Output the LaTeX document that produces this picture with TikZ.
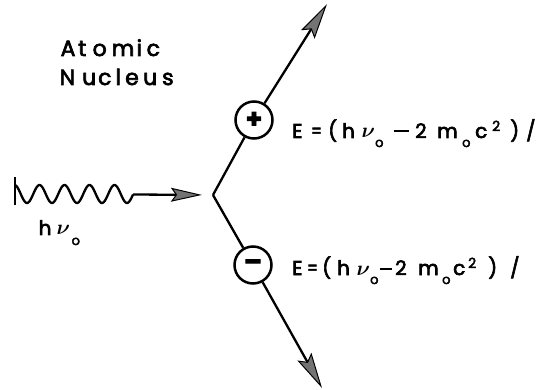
\documentclass[tikz,border=0pt]{standalone}
\usepackage{fontspec}
\setmainfont{Poppins}[FakeBold=3]
\usetikzlibrary{arrows.meta}
\newcommand\at[2]{\makebox[0pt][l]{\hspace*{#1pt}#2}}
\newcommand\lowo[1]{\raisebox{-#1pt}{\fontsize{13}{13}\selectfont o}}
\newcommand\hitwo{\raisebox{7pt}{\fontsize{14}{14}\selectfont 2}}
\newcommand\mbar[1]{\rule[5.5pt]{#1pt}{2pt}}
\newcommand\nusym{{\boldmath$\nu$}}
\newcommand\eqs{\scalebox{0.75}[1]{=}}
\begin{document}
\begin{tikzpicture}[x=1pt,y=-1pt,line width=2.3pt,
  lbl/.style={anchor=base west,inner sep=0pt,font=\fontsize{20}{22}\selectfont},
  ttl/.style={anchor=base west,inner sep=0pt,font=\fontsize{22}{24}\selectfont},
  partc/.style={circle,draw,line width=2.5pt,minimum size=37pt,inner sep=0pt,font=\bfseries\fontsize{26}{26}\selectfont},
  gin/.style={-{Stealth[length=31pt,width=14pt,inset=5pt,fill=black!55,line width=1pt]}},
  gout/.style={-{Stealth[length=36pt,width=16pt,inset=6pt,fill=black!55,line width=1pt]}}]
\useasboundingbox (0,0) rectangle (538,390);
% title
\node[ttl] (atomic) at (59,56) {\at{0}{A}\at{17.5}{t}\at{32}{o}\at{51}{m}\at{76}{i}\at{86}{c}};
\node[ttl] (nucleus) at (58,85) {\at{0}{N}\at{22.5}{u}\at{38.5}{c}\at{56}{l}\at{65.5}{e}\at{83.5}{u}\at{102.5}{s}};
% photon
\coordinate (ws) at (15,187);
\coordinate (we) at (133,194.5);
\node[circle,minimum size=20pt,inner sep=0pt] (v) at (213,195) {};
\draw[line width=1.5pt] (15,177) -- (15,205);
\draw[line width=2.3pt] plot[domain=15:133,samples=160,smooth] (\x,{194+9*cos(14.4*(\x-127))});
\draw[gin] (we) -- (v);
\node[lbl] (hnu) at (37,235) {\at{0}{h}\at{18}{\nusym}\at{33}{\lowo{10}}};
% particles
\node[partc] (pos) at (254,120) {+};
\node[partc] (neg) at (253,265) {–};
\coordinate (tp) at (327,4);
\coordinate (tn) at (322,388);
\draw (v.center) -- (pos);
\draw (v.center) -- (neg);
\draw[gout] (pos) -- (tp);
\draw[gout] (neg) -- (tn);
% energies
\node[lbl] (epos) at (290.5,138) {\at{0}{E}\at{19}{\eqs}\at{36}{(}\at{50}{h}\at{69.5}{\nusym}\at{83}{\lowo{9}}\at{101.5}{\mbar{15}}\at{123}{2}\at{145}{m}\at{170}{\lowo{9}}\at{183}{c}\at{200}{\hitwo}\at{218}{)}\at{234}{/}};
\node[lbl] (eneg) at (290.5,275) {\at{0}{E}\at{15}{\eqs}\at{30}{(}\at{45}{h}\at{64.5}{\nusym}\at{78}{\lowo{9}}\at{87.5}{\mbar{12}}\at{103}{2}\at{126}{m}\at{150}{\lowo{9}}\at{161}{c}\at{176}{\hitwo}\at{196}{)}\at{218}{/}};
\end{tikzpicture}
\end{document}
